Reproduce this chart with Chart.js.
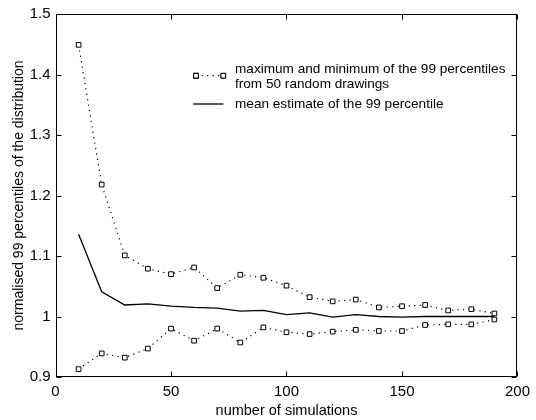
<!DOCTYPE html>
<html>
<head>
<meta charset="utf-8">
<script src="https://cdn.jsdelivr.net/npm/chart.js@4.4.1/dist/chart.umd.min.js"></script>
<style>
html,body{margin:0;padding:0;background:#fff;}
#wrap{width:536px;height:420px;}
</style>
</head>
<body>
<div id="wrap"><canvas id="c" width="536" height="420"></canvas></div>
<script>
const simulations = [10,20,30,40,50,60,70,80,90,100,110,120,130,140,150,160,170,180,190];
const maxValues = [1.449,1.218,1.101,1.079,1.070,1.081,1.047,1.069,1.064,1.051,1.032,1.025,1.028,1.015,1.017,1.019,1.010,1.012,1.005];
const minValues = [0.913,0.939,0.932,0.947,0.980,0.960,0.980,0.957,0.982,0.974,0.971,0.975,0.978,0.976,0.976,0.986,0.987,0.987,0.995];
const meanValues = [1.136,1.041,1.019,1.021,1.017,1.015,1.014,1.009,1.010,1.003,1.006,0.999,1.003,1.000,0.999,1.000,1.000,1.000,1.000];
const xTicks = [0,50,100,150,200];
const yTicks = [0.9,1.0,1.1,1.2,1.3,1.4,1.5];
const legendMaxMin = ["maximum and minimum of the 99 percentiles","from 50 random drawings"];
const legendMean = "mean estimate of the 99 percentile";
const xTitle = "number of simulations";
const yTitle = "normalised 99 percentiles of the distribution";

const FONT = "'Liberation Sans', Arial, sans-serif";
const pts = arr => arr.map((v,i)=>({x:simulations[i], y:v}));

const dotted = {
  borderColor:'#000', borderWidth:1.2, borderDash:[1.2,4.3], tension:0,
  pointStyle:'rect', pointRadius:3.3, pointBorderWidth:1, pointBorderColor:'#000',
  pointBackgroundColor:'#fff', fill:false
};

const frame = {
  id:'frame',
  afterDatasetsDraw(chart){
    const ctx = chart.ctx, a = chart.chartArea;
    const xs = chart.scales.x, ys = chart.scales.y;
    ctx.save();
    ctx.strokeStyle='#000'; ctx.lineWidth=1; ctx.setLineDash([]);
    const L=Math.round(a.left)+0.5, R=Math.round(a.right)-0.5, T=Math.round(a.top)+0.5, B=Math.round(a.bottom)-0.5;
    ctx.strokeRect(L,T,R-L,B-T);
    const tl=5;
    ctx.beginPath();
    xTicks.forEach(v=>{
      const px=Math.round(xs.getPixelForValue(v))+0.5;
      ctx.moveTo(px,B); ctx.lineTo(px,B-tl);
      ctx.moveTo(px,T); ctx.lineTo(px,T+tl);
    });
    yTicks.forEach(v=>{
      const py=Math.round(ys.getPixelForValue(v))+0.5;
      ctx.moveTo(L,py); ctx.lineTo(L+tl,py);
      ctx.moveTo(R,py); ctx.lineTo(R-tl,py);
    });
    ctx.stroke();

    // legend
    ctx.font = "13.6px " + FONT;
    ctx.fillStyle='#000';
    ctx.textBaseline='middle'; ctx.textAlign='left';
    const ds0 = chart.data.datasets[0];
    const ly1 = 75.7;
    ctx.lineWidth=ds0.borderWidth; ctx.setLineDash(ds0.borderDash);
    ctx.beginPath(); ctx.moveTo(196,ly1); ctx.lineTo(223.3,ly1); ctx.stroke();
    ctx.setLineDash([]);
    [196,223.3].forEach(px=>{
      Chart.helpers.drawPoint(ctx,{pointStyle:'rect',radius:ds0.pointRadius,borderWidth:1},px,ly1);
      ctx.fillStyle='#fff'; ctx.strokeStyle='#000'; ctx.lineWidth=1;
      ctx.fill(); ctx.stroke();
    });
    ctx.fillStyle='#000';
    ctx.fillText(legendMaxMin[0],235,69);
    ctx.fillText(legendMaxMin[1],235,84.5);
    ctx.lineWidth=1.3;
    ctx.beginPath(); ctx.moveTo(193.3,104); ctx.lineTo(223.3,104); ctx.stroke();
    ctx.fillText(legendMean,235,104);
    ctx.restore();
  }
};

new Chart(document.getElementById('c'),{
  type:'line',
  data:{datasets:[
    Object.assign({label:'max', data:pts(maxValues)}, dotted),
    Object.assign({label:'min', data:pts(minValues)}, dotted),
    {label:'mean', data:pts(meanValues), borderColor:'#000', borderWidth:1.3, pointRadius:0, tension:0, fill:false}
  ]},
  options:{
    responsive:false, animation:false, maintainAspectRatio:false,
    layout:{padding:{left:0,right:12,top:12,bottom:0}},
    plugins:{legend:{display:false}, tooltip:{enabled:false}},
    scales:{
      x:{
        type:'linear', min:0, max:200,
        afterBuildTicks:s=>{s.ticks=xTicks.map(v=>({value:v}));},
        afterFit:s=>{s.height=43;},
        grid:{display:false, drawTicks:false}, border:{display:false},
        ticks:{padding:6, color:'#000', font:{family:FONT,size:15}, maxRotation:0},
        title:{display:true, text:xTitle, color:'#000', font:{family:FONT,size:14.5}, padding:{top:1.6,bottom:0}}
      },
      y:{
        type:'linear', min:0.9, max:1.5,
        afterBuildTicks:s=>{s.ticks=yTicks.map(v=>({value:v}));},
        afterFit:s=>{s.width=55.5;},
        grid:{display:false, drawTicks:false}, border:{display:false},
        ticks:{padding:5, color:'#000', font:{family:FONT,size:15}, callback:v=>String(Number(v.toFixed(1)))},
        title:{display:true, text:yTitle, color:'#000', font:{family:FONT,size:14}, padding:{top:10.5,bottom:0}}
      }
    }
  },
  plugins:[frame]
});
</script>
</body>
</html>
